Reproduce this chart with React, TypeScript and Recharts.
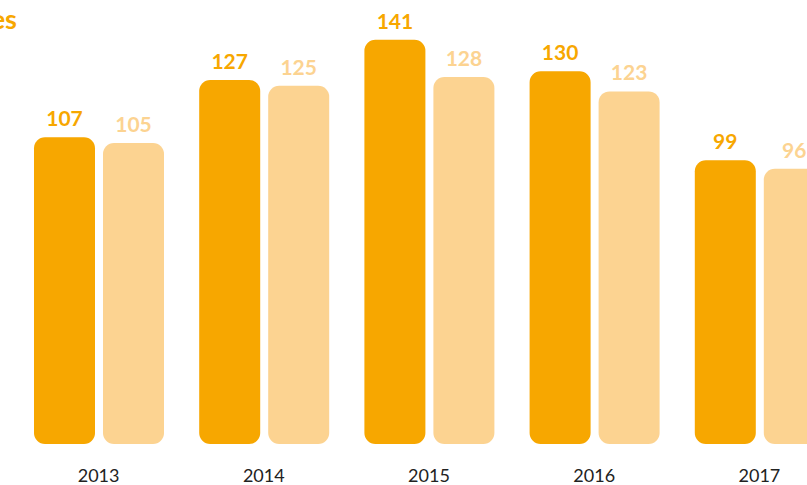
import React from 'react';
import { BarChart, Bar, XAxis, YAxis, LabelList } from 'recharts';

const years = ['2013', '2014', '2015', '2016', '2017'];
const seriesA = [107, 127, 141, 130, 99];
const seriesB = [105, 125, 128, 123, 96];
const titleFragment = 'es';

const data = years.map((y, i) => ({ year: y, a: seriesA[i], b: seriesB[i] }));

const DARK = '#F7A700';
const LIGHT = '#FCD391';
const FONT = 'Lato, "Open Sans", sans-serif';

export default function App() {
  return (
    <div style={{ position: 'absolute', left: 0, top: 0, width: 807, height: 485, overflow: 'hidden', background: '#fff' }}>
      <div
        style={{
          position: 'absolute',
          right: 807 - 17,
          top: 2,
          fontFamily: FONT,
          fontWeight: 700,
          fontSize: 27,
          color: DARK,
          whiteSpace: 'nowrap',
          textAlign: 'right',
        }}
      >
        {titleFragment}
      </div>
      <BarChart
        width={842}
        height={485}
        data={data}
        margin={{ top: 14, right: 0, left: 16, bottom: 11 }}
        barSize={61}
        barGap={8}
      >
        <XAxis
          dataKey="year"
          axisLine={false}
          tickLine={false}
          tickMargin={19}
          height={30}
          tick={{ fill: '#222', fontSize: 18, fontFamily: FONT }}
        />
        <YAxis hide domain={[0, 150]} />
        <Bar dataKey="a" fill={DARK} radius={[11, 11, 11, 11]} isAnimationActive={false}>
          <LabelList dataKey="a" position="top" offset={11} fill={DARK} fontSize={21} fontWeight={700} fontFamily={FONT} />
        </Bar>
        <Bar dataKey="b" fill={LIGHT} radius={[11, 11, 11, 11]} isAnimationActive={false}>
          <LabelList dataKey="b" position="top" offset={11} fill={LIGHT} fontSize={21} fontWeight={700} fontFamily={FONT} />
        </Bar>
      </BarChart>
    </div>
  );
}
